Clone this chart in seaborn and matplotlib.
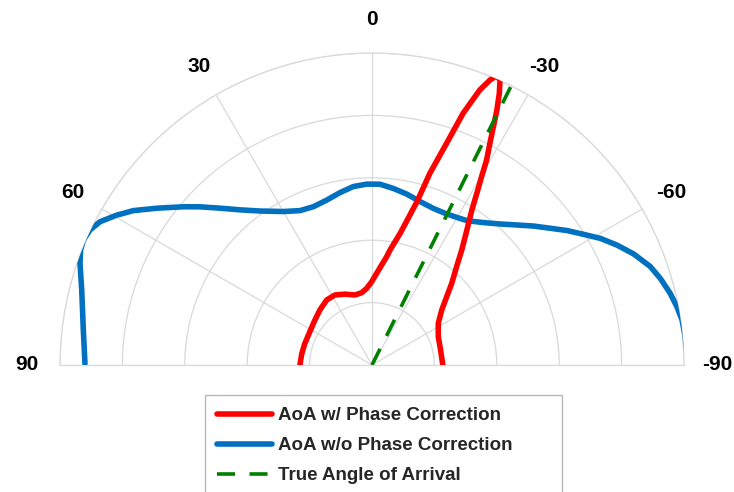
import numpy as np
import seaborn as sns
import matplotlib
matplotlib.use('Agg')
import matplotlib.pyplot as plt

# angulo em graus (positivo = esquerda), raio normalizado 0..1
blue_theta = [89.7, 83.1, 75.5, 70.8, 68.5, 66.6, 64.4, 62.2, 59.6, 57.1, 53.9, 50.0,
              47.4, 44.1, 40.4, 36.0, 30.0, 25.0, 20.3, 15.4, 10.5, 6.0, 1.7, -2.5,
              -6.9, -11.5, -16.4, -21.4, -26.3, -31.0, -33.4, -38.1, -42.3, -46.0,
              -49.3, -52.5, -55.4, -58.3, -61.0, -63.9, -67.0, -70.5, -73.3, -76.5,
              -79.2, -81.7, -84.8, -87.9, -89.7]
blue_r = [0.920, 0.932, 0.961, 0.991, 1.004, 1.008, 1.002, 0.985, 0.949, 0.911, 0.853, 0.789,
          0.749, 0.700, 0.653, 0.610, 0.568, 0.546, 0.541, 0.548, 0.562, 0.575, 0.580, 0.580,
          0.570, 0.559, 0.546, 0.539, 0.540, 0.548, 0.554, 0.580, 0.611, 0.646,
          0.683, 0.720, 0.759, 0.797, 0.837, 0.874, 0.911, 0.946, 0.965, 0.983,
          0.995, 1.004, 1.008, 1.010, 1.010]

red_theta = [90, 80.6, 72.1, 61.8, 51.7, 43.4, 34.9, 27.9, 20.8, 13.7, 8.1, 4.0, 0.2,
             -2.9, -5.5, -7.7, -8.9, -12.1, -15.4, -16.8, -18.6, -19.9, -21.4, -22.5,
             -23.3, -24.2, -25.1, -26.1, -27.0, -28.0, -29.2, -30.2, -31.4, -32.8,
             -35.1, -38.0, -40.7, -44.3, -47.6, -51.7, -57.8, -66.9, -77.7, -90]
red_r = [0.231, 0.228, 0.226, 0.226, 0.233, 0.243, 0.254, 0.254, 0.243, 0.231, 0.234, 0.246, 0.267,
         0.294, 0.322, 0.350, 0.373, 0.432, 0.543, 0.642, 0.750, 0.858, 0.947, 0.989,
         1.009, 1.001, 0.962, 0.910, 0.857, 0.805, 0.753, 0.698, 0.645, 0.591,
         0.529, 0.467, 0.416, 0.366, 0.324, 0.285, 0.251, 0.231, 0.225, 0.227]

true_theta = [-26.5, -26.5]
true_r = [0.0, 1.0]

tick_angles = [90, 60, 30, 0, -30, -60, -90]
tick_labels = ['90', '60', '30', '0', '-30', '-60', '-90']

sns.set_style('white')
plt.rcParams['font.family'] = ['Liberation Sans', 'DejaVu Sans']

fig = plt.figure(figsize=(7.34, 4.92), dpi=100)
# caixa quadrada: o semicirculo ocupa a faixa do meio
ax = fig.add_axes([60 / 734, -29 / 492, 624 / 734, 624 / 492], projection='polar')
ax.set_theta_zero_location('N')
ax.set_theta_direction(1)
ax.set_thetamin(-90)
ax.set_thetamax(90)
ax.set_ylim(0, 1)

grid_col = '#d9d9d9'
ax.set_yticks([0.2, 0.4, 0.6, 0.8, 1.0])
ax.set_yticklabels([])
ax.set_xticks(np.deg2rad(tick_angles))
ax.set_xticklabels([])
ax.grid(True, color=grid_col, linewidth=0.9)
for sp in ax.spines.values():
    sp.set_color(grid_col)
    sp.set_linewidth(0.9)
ax.tick_params(length=0)

sns.lineplot(x=np.deg2rad(blue_theta), y=blue_r, ax=ax, color='#0070C0', lw=4,
             estimator=None, sort=False, label='AoA w/o Phase Correction', zorder=3,
             solid_joinstyle='round')
sns.lineplot(x=np.deg2rad(red_theta), y=red_r, ax=ax, color='#FF0000', lw=4,
             estimator=None, sort=False, label='AoA w/ Phase Correction', zorder=4,
             solid_joinstyle='round')
sns.lineplot(x=np.deg2rad(true_theta), y=true_r, ax=ax, color='#008000', lw=2.6,
             linestyle=(0, (5, 4)), estimator=None, sort=False,
             label='True Angle of Arrival', zorder=5)

for a, lab in zip(tick_angles, tick_labels):
    ax.text(np.deg2rad(a), 1.106, lab, ha='center', va='center', fontsize=15,
            fontweight='bold', color='black', clip_on=False)

handles, labels = ax.get_legend_handles_labels()
ax.get_legend().remove()
order = [1, 0, 2]
leg = fig.legend([handles[i] for i in order], [labels[i] for i in order],
                 loc='upper left', bbox_to_anchor=(205 / 734, 0, 357 / 734, 1 - 395 / 492),
                 mode='expand', borderaxespad=0, frameon=True, fancybox=False,
                 edgecolor='#a6a6a6', prop={'size': 13.5, 'weight': 'bold'},
                 handlelength=2.9, handletextpad=0.37, labelspacing=0.69, borderpad=0.65)
leg.get_frame().set_linewidth(1)

plt.savefig('out.png', dpi=100)
plt.close()
